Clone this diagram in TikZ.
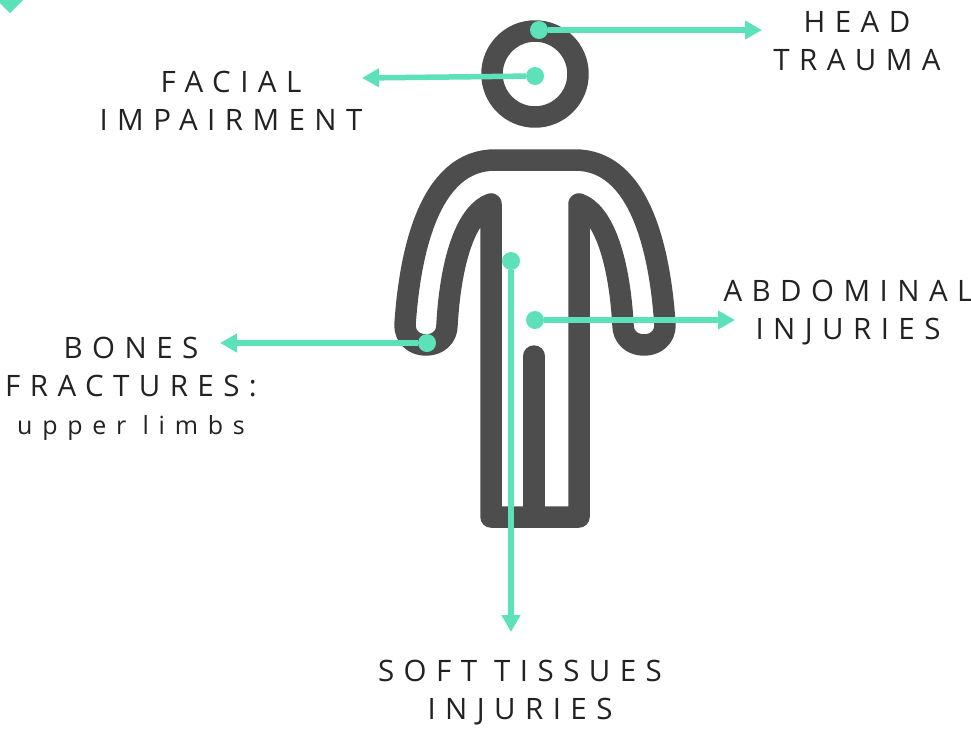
\documentclass[tikz,border=0pt]{standalone}
\usepackage{fontspec}
\setmainfont[LetterSpace=32]{Open Sans}
\newfontfamily\limbfont[LetterSpace=39]{Open Sans}
\usetikzlibrary{arrows.meta}
\definecolor{mint}{HTML}{5CE1B9}
\definecolor{figuregray}{HTML}{4D4D4D}
\definecolor{labelink}{HTML}{222222}
\begin{document}
\begin{tikzpicture}[
  x=1pt, y=-1pt,
  figure/.style={draw=figuregray, line width=21.5pt, line join=round, line cap=round},
  spot/.style={circle, fill=mint, minimum size=18pt, inner sep=0pt},
  pointer/.style={draw=mint, line width=5.5pt, -{Triangle[length=17pt,width=18pt]}},
  injury/.style={align=center, text=labelink, inner sep=0pt, font=\fontsize{29.5}{38}\selectfont},
  ]
 \useasboundingbox (0,0) rectangle (971,729);
 \fill [mint] (0,0) -- (23,0) -- (10,13) -- (0,3) -- cycle;
 % head and body
 \draw [figure] (535,74) circle [radius=43pt];
 \draw [figure] (491,517) -- (491,204)
    .. controls (468,212) and (451,255) .. (447,325)
    .. controls (447,337) and (438,345) .. (426,345)
    .. controls (414,345) and (405,337) .. (405,325)
    .. controls (410,250) and (430,160) .. (495,160)
    -- (575,160)
    .. controls (640,160) and (660,250) .. (665,325)
    .. controls (665,337) and (656,345) .. (644,345)
    .. controls (632,345) and (623,337) .. (623,325)
    .. controls (619,255) and (602,212) .. (579,204)
    -- (579,517) -- cycle;
 \draw [figure] (534,356) -- (534,517);
 % spots on the figure
 \node [spot] (headspot) at (539,30) {};
 \node [spot] (facespot) at (535,76) {};
 \node [spot] (armspot) at (427,343) {};
 \node [spot] (bellyspot) at (535,320) {};
 \node [spot] (softspot) at (511,261) {};
 \coordinate (headend) at (762,30);
 \coordinate (faceend) at (362,78);
 \coordinate (armend) at (220,343);
 \coordinate (bellyend) at (735,320);
 \coordinate (softend) at (511,632);
 \draw [pointer] (headspot) -- (headend);
 \draw [pointer] (facespot) -- (faceend);
 \draw [pointer] (armspot) -- (armend);
 \draw [pointer] (bellyspot) -- (bellyend);
 \draw [pointer] (softspot) -- (softend);
 % labels
 \node [injury] (headlabel) at (857,41.5) {HEAD\\TRAUMA};
 \node [injury] (facelabel) at (231,101) {FACIAL\\IMPAIRMENT};
 \node [injury] (bellylabel) at (848,313) {ABDOMINAL\\INJURIES};
 \node [injury] (softlabel) at (520,693) {SOFT TISSUES\\INJURIES};
 \node [injury] (armlabel) at (131,389) {BONES\\FRACTURES:\\{\limbfont\fontsize{25}{38}\selectfont upper limbs}};
\end{tikzpicture}
\end{document}
